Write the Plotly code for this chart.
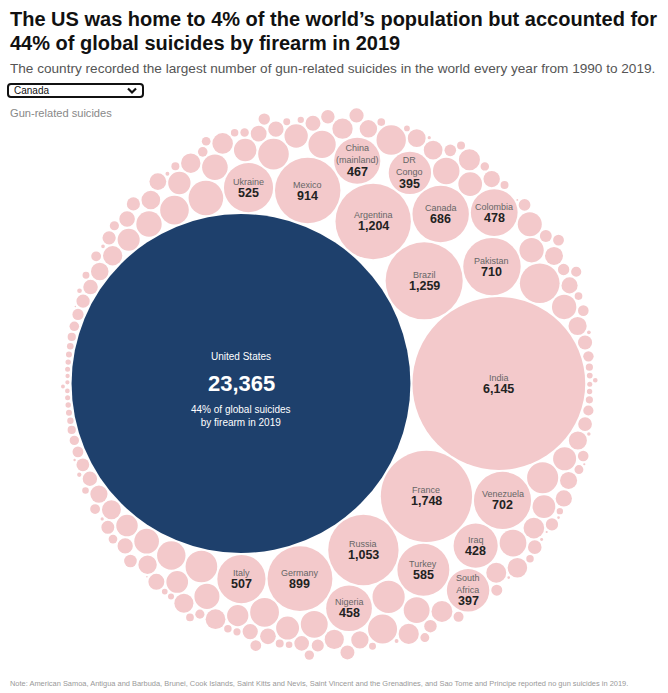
import math
import plotly.graph_objects as go

# ---------------- data (in the chart's drawing order) ----------------
countries = ["United States", "India", "France", "Brazil", "Argentina", "Russia", "Mexico",
             "Germany", "Pakistan", "Venezuela", "Canada", "Turkey", "Ukraine", "Italy",
             "Colombia", "China<br>(mainland)", "Nigeria", "Iraq", "DR<br>Congo", "South<br>Africa"]
suicides = [23365, 6145, 1748, 1259, 1204, 1053, 914, 899, 710, 702, 686, 585, 525, 507,
            478, 467, 458, 428, 395, 397]

# unlabeled countries (estimated from circle sizes)
other_suicides = [350, 270, 235, 228, 220, 214, 198, 194, 191, 189, 186, 172, 168, 166, 163,
                  156, 153, 151, 147, 143, 140, 139, 136, 133, 129, 126, 125, 123, 121, 119,
                  116, 113, 111, 109, 107, 105, 103, 102, 100, 99, 97, 95, 93, 92, 91, 90,
                  89, 88, 87, 86, 84, 82, 81, 80, 79, 77, 76, 75, 74, 73, 71, 68, 67, 66, 65,
                  64, 63, 62, 61, 60, 60, 58, 56, 55, 54, 53, 52, 51, 50, 49, 48, 47, 47, 46,
                  45, 44, 43, 42, 41, 40, 39, 38, 37, 36, 36, 35, 34, 33, 33, 33, 32, 32, 31,
                  30, 30, 29, 28, 28, 27, 27, 26, 26, 25, 25, 24, 24, 23, 23, 22, 22, 21, 21,
                  20, 20, 20, 20, 19, 19, 19, 18, 18, 18, 17, 17, 17, 16, 16, 16, 15, 15, 15,
                  14, 14, 14, 13, 13, 13, 12, 12, 12, 11, 11, 11, 10, 10, 10, 9, 9, 9, 8, 8,
                  8, 7, 7, 7, 6.5, 6.5, 6, 5.5, 5.5, 5, 4.5, 4.5, 4, 3.5, 3.5, 3, 2.5, 2.5]

title_lines = ["The US was home to 4% of the world\u2019s population but accounted for",
               "44% of global suicides by firearm in 2019"]
subtitle = "The country recorded the largest number of gun-related suicides in the world every year from 1990 to 2019."
note = ("Note: American Samoa, Antigua and Barbuda, Brunei, Cook Islands, Saint Kitts and Nevis, "
        "Saint Vincent and the Grenadines, and Sao Tome and Principe reported no gun suicides in 2019.")
us_share = "44% of global suicides<br>by firearm in 2019"
selected = "Canada"
legend_label = "Gun-related suicides"

# ---------------- styling ----------------
W, H = 668, 693
PINK = "#f3c9cb"
NAVY = "#1e406c"
FONT = "Liberation Sans, Arial, sans-serif"
SCALE = 1.115          # px per sqrt(value) unit
US_PX = (241, 383.5)   # pixel position of the largest circle
GAP = 1.0              # px trimmed from each circle radius


# ---------------- circle packing (front-chain, as d3.packSiblings) ----------------
class Node:
    def __init__(self, c):
        self.c = c
        self.next = None
        self.previous = None


def place(b, a, c):
    dx = b["x"] - a["x"]
    dy = b["y"] - a["y"]
    d2 = dx * dx + dy * dy
    if d2:
        a2 = (a["r"] + c["r"]) ** 2
        b2 = (b["r"] + c["r"]) ** 2
        if a2 > b2:
            x = (d2 + b2 - a2) / (2 * d2)
            y = math.sqrt(max(0, b2 / d2 - x * x))
            c["x"] = b["x"] - x * dx - y * dy
            c["y"] = b["y"] - x * dy + y * dx
        else:
            x = (d2 + a2 - b2) / (2 * d2)
            y = math.sqrt(max(0, a2 / d2 - x * x))
            c["x"] = a["x"] + x * dx - y * dy
            c["y"] = a["y"] + x * dy + y * dx
    else:
        c["x"] = a["x"] + c["r"]
        c["y"] = a["y"]


def intersects(a, b):
    dr = a["r"] + b["r"] - 1e-6
    dx = b["x"] - a["x"]
    dy = b["y"] - a["y"]
    return dr > 0 and dr * dr > dx * dx + dy * dy


def score(node):
    a = node.c
    b = node.next.c
    ab = a["r"] + b["r"]
    dx = (a["x"] * b["r"] + b["x"] * a["r"]) / ab
    dy = (a["y"] * b["r"] + b["y"] * a["r"]) / ab
    return dx * dx + dy * dy


def pack_siblings(circles):
    n = len(circles)
    a = circles[0]
    a["x"], a["y"] = 0.0, 0.0
    b = circles[1]
    a["x"] = -b["r"]
    b["x"], b["y"] = a["r"], 0.0
    c = circles[2]
    place(b, a, c)
    a, b, c = Node(a), Node(b), Node(c)
    a.next = b
    c.previous = b
    b.next = c
    a.previous = c
    c.next = a
    b.previous = a
    i = 3
    while i < n:
        place(a.c, b.c, circles[i])
        c = Node(circles[i])
        j, k = b.next, a.previous
        sj, sk = b.c["r"], a.c["r"]
        restart = False
        while True:
            if sj <= sk:
                if intersects(j.c, c.c):
                    b = j
                    a.next = b
                    b.previous = a
                    restart = True
                    break
                sj += j.c["r"]
                j = j.next
            else:
                if intersects(k.c, c.c):
                    a = k
                    a.next = b
                    b.previous = a
                    restart = True
                    break
                sk += k.c["r"]
                k = k.previous
            if j is k.next:
                break
        if restart:
            continue
        c.previous = a
        c.next = b
        a.next = c
        b.previous = c
        b = c
        aa = score(a)
        c = c.next
        while c is not b:
            ca = score(c)
            if ca < aa:
                a, aa = c, ca
            c = c.next
        b = a.next
        i += 1
    return circles


all_vals = suicides + other_suicides
circles = [{"i": idx, "r": math.sqrt(v), "x": 0.0, "y": 0.0} for idx, v in enumerate(all_vals)]
pack_siblings(circles)
pos = {c["i"]: c for c in circles}

ux, uy = pos[0]["x"], pos[0]["y"]

# axis ranges so that the library's scales map the pack onto the page
x_range = [ux - US_PX[0] / SCALE, ux + (W - US_PX[0]) / SCALE]
y_range = [-uy - (H - US_PX[1]) / SCALE, -uy + US_PX[1] / SCALE]

shapes = []
for c in circles:
    r = c["r"] - GAP / SCALE
    cx, cy = c["x"], -c["y"]
    shapes.append(dict(type="circle", xref="x", yref="y",
                       x0=cx - r, x1=cx + r, y0=cy - r, y1=cy + r,
                       fillcolor=NAVY if c["i"] == 0 else PINK,
                       line=dict(width=0), layer="below"))


def px(x):
    return x / W


def py(y):
    return 1 - y / H


annotations = []
# labels inside circles
for idx, (name, val) in enumerate(zip(countries, suicides)):
    c = pos[idx]
    cx, cy = c["x"], -c["y"]
    if idx == 0:
        annotations += [
            dict(x=cx, y=cy, xref="x", yref="y", text="United States", showarrow=False,
                 yshift=27.5, font=dict(family=FONT, size=10, color="white")),
            dict(x=cx, y=cy, xref="x", yref="y", text=f"{val:,}", showarrow=False,
                 yshift=0.5, font=dict(family=FONT, size=22, color="white", weight="bold")),
            dict(x=cx, y=cy, xref="x", yref="y", text=us_share, showarrow=False,
                 yshift=-32, font=dict(family=FONT, size=10, color="white")),
        ]
        continue
    two = "<br>" in name
    annotations += [
        dict(x=cx, y=cy, xref="x", yref="y", text=name, showarrow=False,
             yshift=6.5 if two else 6,
             font=dict(family=FONT, size=9, color="#666666")),
        dict(x=cx, y=cy, xref="x", yref="y", text=f"{val:,}", showarrow=False,
             yshift=-11 if two else -5,
             font=dict(family=FONT, size=12.5, color="#222222", weight="bold")),
    ]

# header texts
annotations += [
    dict(x=px(8), y=py(19), xref="paper", yref="paper", xanchor="left", yanchor="middle",
         text=title_lines[0], showarrow=False,
         font=dict(family=FONT, size=20, color="#111111", weight="bold")),
    dict(x=px(8), y=py(43), xref="paper", yref="paper", xanchor="left", yanchor="middle",
         text=title_lines[1], showarrow=False,
         font=dict(family=FONT, size=20, color="#111111", weight="bold")),
    dict(x=px(8), y=py(68), xref="paper", yref="paper", xanchor="left", yanchor="middle",
         text=subtitle, showarrow=False,
         font=dict(family=FONT, size=13.6, color="#555555")),
    dict(x=px(12), y=py(90.5), xref="paper", yref="paper", xanchor="left", yanchor="middle",
         text=selected, showarrow=False,
         font=dict(family=FONT, size=10, color="#111111")),
    dict(x=px(8), y=py(113), xref="paper", yref="paper", xanchor="left", yanchor="middle",
         text=legend_label, showarrow=False,
         font=dict(family=FONT, size=11.1, color="#888888")),
    dict(x=px(8), y=py(683), xref="paper", yref="paper", xanchor="left", yanchor="middle",
         text=note, showarrow=False,
         font=dict(family=FONT, size=7.45, color="#999999")),
]

# dropdown box and chevron
shapes += [
    dict(type="path", xref="paper", yref="paper",
         path=(f"M {px(11)} {py(84)} L {px(140)} {py(84)} Q {px(143)} {py(84)} {px(143)} {py(87)} "
               f"L {px(143)} {py(94)} Q {px(143)} {py(97)} {px(140)} {py(97)} "
               f"L {px(11)} {py(97)} Q {px(8)} {py(97)} {px(8)} {py(94)} "
               f"L {px(8)} {py(87)} Q {px(8)} {py(84)} {px(11)} {py(84)} Z"),
         line=dict(color="#111111", width=2), fillcolor="white"),
    dict(type="path", xref="paper", yref="paper",
         path=f"M {px(128)} {py(88.5)} L {px(132)} {py(92.5)} L {px(136)} {py(88.5)}",
         line=dict(color="#111111", width=2.2)),
]

fig = go.Figure()
fig.add_trace(go.Scatter(x=[c["x"] for c in circles], y=[-c["y"] for c in circles],
                         mode="markers", marker=dict(size=1, opacity=0),
                         hoverinfo="skip", showlegend=False))
fig.update_layout(
    width=W, height=H, margin=dict(l=0, r=0, t=0, b=0),
    paper_bgcolor="white", plot_bgcolor="white",
    xaxis=dict(range=x_range, visible=False, fixedrange=True),
    yaxis=dict(range=y_range, visible=False, fixedrange=True),
    shapes=shapes, annotations=annotations, showlegend=False,
)
fig.write_html("out.html", config={"displayModeBar": False},
               post_script="document.body.style.margin='0';")
